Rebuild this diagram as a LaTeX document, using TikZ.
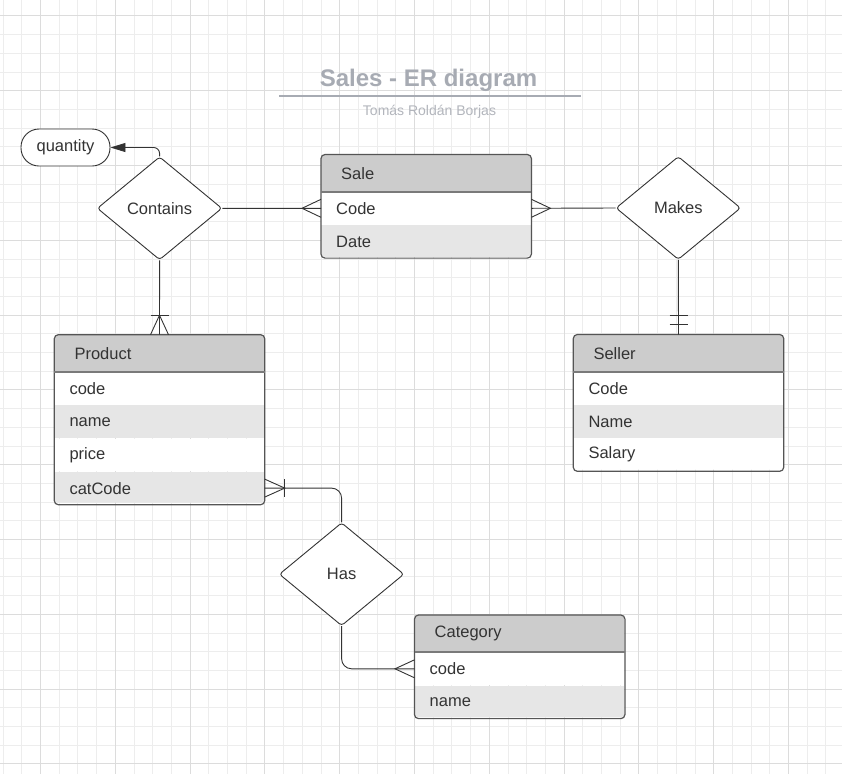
\documentclass[tikz,border=0pt]{standalone}
\usepackage{fontspec}
\setmainfont{Liberation Sans}
\usepackage{tikz}
\usepackage{xcolor}
\usetikzlibrary{positioning, arrows.meta}
\usetikzlibrary{shapes.geometric}

\definecolor{ink}{HTML}{333333}
\definecolor{edgegray}{HTML}{555555}
\definecolor{sepgray}{HTML}{7A7A7A}
\definecolor{hdrfill}{HTML}{CCCCCC}
\definecolor{rowfill}{HTML}{E6E6E6}
\definecolor{titlegray}{HTML}{A7ABB3}
\definecolor{subgray}{HTML}{B2B5BC}
\definecolor{gridmin}{HTML}{EDEDED}
\definecolor{gridmaj}{HTML}{DCDCDC}

\tikzset{
  hdr/.style={anchor=north west, fill=hdrfill, inner xsep=20pt, inner ysep=0pt, text width=170pt, align=left, minimum height=36.8pt},
  rowW/.style={fill=white, inner xsep=15pt, inner ysep=0pt, text width=180pt, align=left, minimum height=32.8pt},
  rowG/.style={rowW, fill=rowfill},
  tblframe/.style={draw=edgegray, line width=1.2pt, rounded corners=4pt},
  hdrsep/.style={draw=sepgray, line width=1.6pt},
  relbox/.style={diamond, draw=ink, fill=white, line width=0.9pt, rounded corners=3pt, inner sep=0pt, minimum width=124.7pt, minimum height=103pt},
  attrbox/.style={rectangle, draw=ink, fill=white, line width=0.9pt, rounded corners=18pt, minimum width=89pt, minimum height=37pt},
  conn/.style={draw=ink, line width=0.9pt},
  gridline/.style={draw=gridmin, line width=0.8pt},
  gridmajor/.style={draw=gridmaj, line width=0.8pt}
}

\begin{document}
\begin{tikzpicture}[x=1pt, y=-1pt, font=\fontsize{16.5}{19.8}\selectfont, text=ink]
                \useasboundingbox (0,0) rectangle (842,774);
                \fill[white] (0,0) rectangle (842,774);

                % grid
                \foreach \gx in {3.0,21.7,...,842} \draw[gridline] (\gx,0) -- (\gx,774);
                \foreach \gy in {15.8,34.5,...,774} \draw[gridline] (0,\gy) -- (842,\gy);
                \foreach \gx in {40.4,115.2,...,842} \draw[gridmajor] (\gx,0) -- (\gx,774);
                \foreach \gy in {15.8,90.6,...,774} \draw[gridmajor] (0,\gy) -- (842,\gy);

                % title
                \node[font=\bfseries\fontsize{24}{29}\selectfont, text=titlegray, anchor=base] (title) at (428.5,86.7) {Sales - ER diagram};
                \draw[titlegray, line width=2pt] (279,95.5) -- (581,95.5);
                \node[font=\fontsize{14}{17}\selectfont, text=subgray, anchor=base] (author) at (429.5,115) {Tomás Roldán Borjas};

                % entities
                \begin{scope}
                \clip[rounded corners=4pt] (321,154.5) rectangle (531,256.9);
                \node[hdr] (sale) at (321,154.5) {Sale};
                \node[rowW, below=0pt of sale] (saleCode) {Code};
                \node[rowG, below=0pt of saleCode] (saleDate) {Date};
                \end{scope}
                \draw[tblframe] (sale.north west) rectangle (saleDate.south east);
                \draw[hdrsep] (sale.south west) -- (sale.south east);

                \begin{scope}
                \clip[rounded corners=4pt] (54.3,334.7) rectangle (264.3,502.7);
                \node[hdr] (prod) at (54.3,334.7) {Product};
                \node[rowW, below=0pt of prod] (prodCode) {code};
                \node[rowG, below=0pt of prodCode] (prodName) {name};
                \node[rowW, below=0pt of prodName] (prodPrice) {price};
                \node[rowG, below=0pt of prodPrice] (prodCat) {catCode};
                \end{scope}
                \draw[tblframe] (prod.north west) rectangle (prodCat.south east);
                \draw[hdrsep] (prod.south west) -- (prod.south east);

                \begin{scope}
                \clip[rounded corners=4pt] (573.3,334.5) rectangle (783.3,469.7);
                \node[hdr] (seller) at (573.3,334.5) {Seller};
                \node[rowW, below=0pt of seller] (sellerCode) {Code};
                \node[rowG, below=0pt of sellerCode] (sellerName) {Name};
                \node[rowW, below=0pt of sellerName] (sellerSalary) {Salary};
                \end{scope}
                \draw[tblframe] (seller.north west) rectangle (sellerSalary.south east);
                \draw[hdrsep] (seller.south west) -- (seller.south east);

                \begin{scope}
                \clip[rounded corners=4pt] (414.5,615) rectangle (624.5,717.4);
                \node[hdr] (cat) at (414.5,615) {Category};
                \node[rowW, below=0pt of cat] (catCode) {code};
                \node[rowG, below=0pt of catCode] (catName) {name};
                \end{scope}
                \draw[tblframe] (cat.north west) rectangle (catName.south east);
                \draw[hdrsep] (cat.south west) -- (cat.south east);

                % relations
                \node[relbox] (contains) at (159.6,208.3) {Contains};
                \node[relbox] (makes) at (678.3,208) {Makes};
                \node[relbox] (has) at (341.6,574.2) {Has};
                \node[attrbox] (qty) at (65.5,147.5) {quantity};

                \draw[conn] (contains.east) -- (saleCode.west);
                \draw[conn] (saleCode.east) -- (makes.west);
                \draw[conn] (contains.south) -- (prod.north);
                \draw[conn] (makes.south) -- (seller.north);
                \draw[conn, rounded corners=10pt] (has.north) |- (prodCat.east);
                \draw[conn, rounded corners=10pt] (has.south) |- (catCode.west);
                \draw[conn, -{Triangle[length=15pt, width=9pt]}, rounded corners=6pt] (contains.north) |- (qty.east);

                % cardinality marks
                \draw[conn] ([yshift=9pt]saleCode.west) -- ([xshift=-19pt]saleCode.west) -- ([yshift=-9pt]saleCode.west);
                \draw[conn] ([yshift=9pt]saleCode.east) -- ([xshift=19pt]saleCode.east) -- ([yshift=-9pt]saleCode.east);
                \draw[conn] ([yshift=9pt]catCode.west) -- ([xshift=-19.5pt]catCode.west) -- ([yshift=-9pt]catCode.west);
                \draw[conn] ([xshift=-9pt]prod.north) -- ([yshift=19.5pt]prod.north) -- ([xshift=9pt]prod.north);
                \draw[conn] ([shift={(-9pt,19.5pt)}]prod.north) -- ([shift={(9pt,19.5pt)}]prod.north);
                \draw[conn] ([yshift=9pt]prodCat.east) -- ([xshift=20pt]prodCat.east) -- ([yshift=-9pt]prodCat.east);
                \draw[conn] ([shift={(20pt,9pt)}]prodCat.east) -- ([shift={(20pt,-9pt)}]prodCat.east);
                \draw[conn] ([shift={(-9pt,19.5pt)}]seller.north) -- ([shift={(9pt,19.5pt)}]seller.north);
                \draw[conn] ([shift={(-9pt,10.5pt)}]seller.north) -- ([shift={(9pt,10.5pt)}]seller.north);
            \end{tikzpicture}
\end{document}
